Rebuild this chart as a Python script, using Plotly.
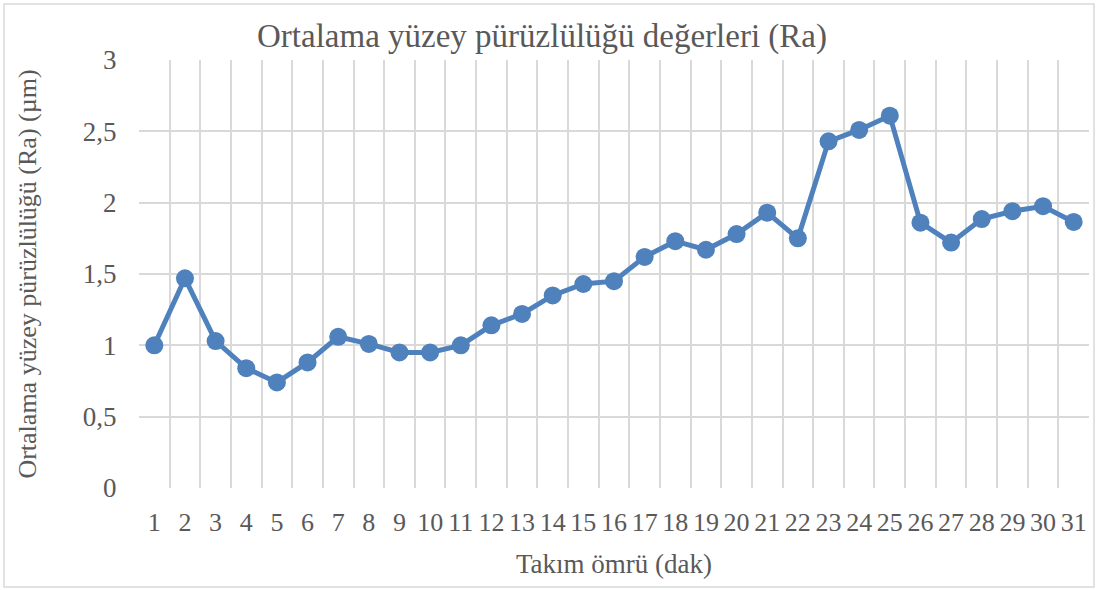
import plotly.graph_objects as go

# Takım ömrü (dakika) ve ölçülen ortalama yüzey pürüzlülüğü Ra (µm)
dakika = [str(i) for i in range(1, 32)]
ra_degerleri = [1.00, 1.47, 1.03, 0.84, 0.74, 0.88, 1.06, 1.01, 0.95, 0.95,
                1.00, 1.14, 1.22, 1.35, 1.43, 1.45, 1.62, 1.73, 1.67, 1.78,
                1.93, 1.75, 2.43, 2.51, 2.61, 1.86, 1.72, 1.885, 1.94, 1.975,
                1.865]
y_tick_vals = [0, 0.5, 1, 1.5, 2, 2.5, 3]
y_tick_text = ["0", "0,5", "1", "1,5", "2", "2,5", "3"]

FONT = "Liberation Serif"
TEXT = "#595959"
GRID = "#d9d9d9"
LINE = "#4f81bd"

W, H = 1099, 590
L, R, T, B = 139, 10, 60, 102
pw, ph = W - L - R, H - T - B

fig = go.Figure(go.Scatter(
    x=dakika, y=ra_degerleri, mode="lines+markers",
    line=dict(color=LINE, width=5),
    marker=dict(color=LINE, size=18),
    showlegend=False, cliponaxis=False,
))

# outer chart frame
fig.add_shape(type="rect", xref="paper", yref="paper",
              x0=(4 - L) / pw, x1=(1094 - L) / pw,
              y0=-(587 - T - ph) / ph, y1=(ph + T - 4) / ph,
              line=dict(color=GRID, width=1.5), fillcolor="rgba(0,0,0,0)", layer="below")

fig.update_layout(
    width=W, height=H,
    margin=dict(l=L, r=R, t=T, b=B),
    paper_bgcolor="white", plot_bgcolor="white",
    font=dict(family=FONT, color=TEXT, size=27),
    title=dict(text="Ortalama yüzey pürüzlülüğü değerleri (Ra)",
               x=(252 + 832) / 2 / W, xanchor="center", y=1 - 35 / H, yanchor="middle",
               font=dict(size=33, color=TEXT, family=FONT)),
    xaxis=dict(type="category", range=[-0.5, 30.5], tickson="boundaries",
               tickmode="linear", tick0=0, dtick=1,
               showgrid=True, gridcolor=GRID, gridwidth=1.5,
               showline=False, zeroline=False, tickangle=0,
               ticks="", ticklabelstandoff=16,
               tickfont=dict(size=26),
               title=dict(text="Takım ömrü (dak)", font=dict(size=27), standoff=18)),
    yaxis=dict(range=[0, 3], tickvals=y_tick_vals, ticktext=y_tick_text,
               showgrid=True, gridcolor=GRID, gridwidth=1.5,
               zeroline=False, showline=False,
               ticks="outside", ticklen=16, tickcolor="rgba(0,0,0,0)",
               tickfont=dict(size=27),
               title=dict(text="Ortalama yüzey pürüzlülüğü (Ra) (µm)",
                          font=dict(size=26), standoff=38)),
)

fig.write_html("out.html")
